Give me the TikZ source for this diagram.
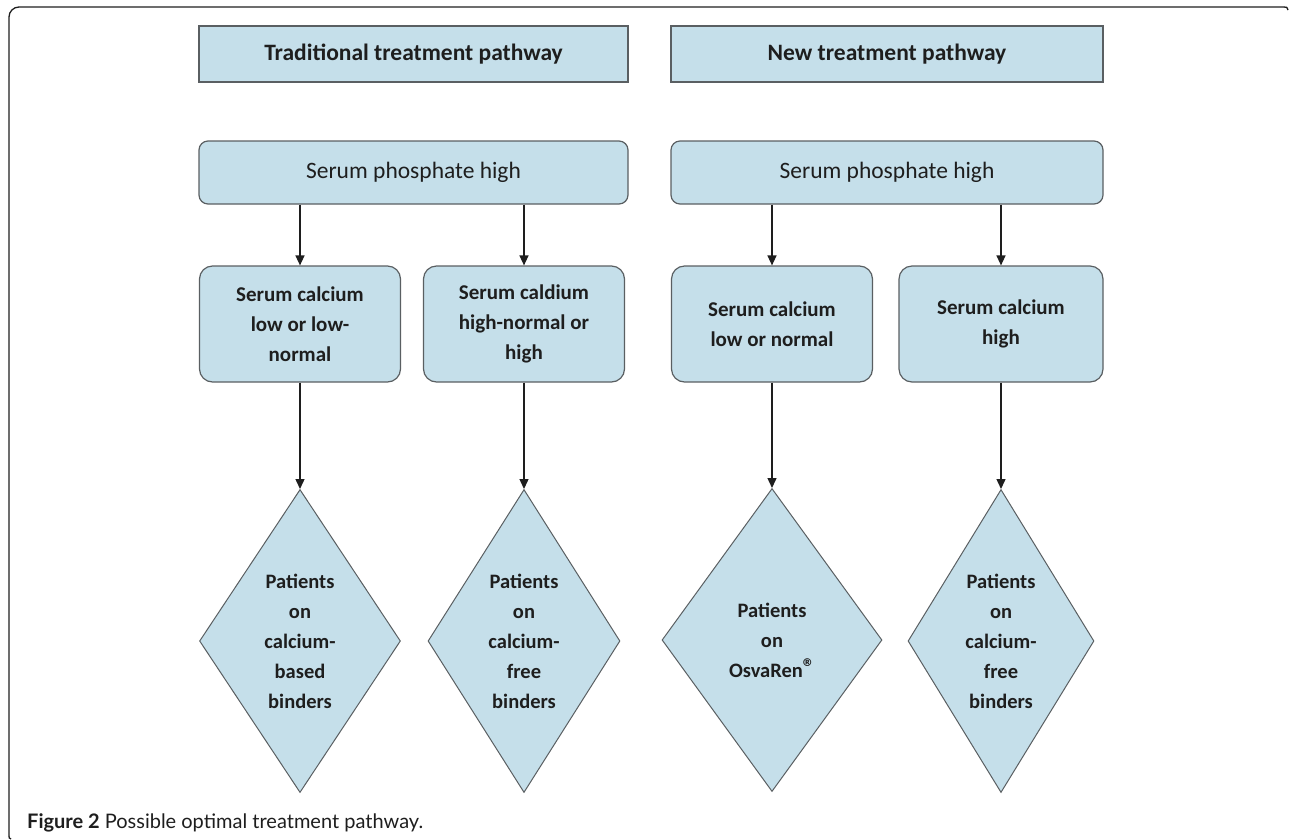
\documentclass[tikz,border=0pt]{standalone}
\usepackage{fontspec}
\setmainfont{Carlito}
\newfontfamily\capfont{Lato}
\usetikzlibrary{shapes.geometric,arrows.meta}
\definecolor{boxfill}{HTML}{C5DFEA}
\definecolor{boxline}{HTML}{5A5F62}
\definecolor{inkc}{HTML}{1E1E1E}
\begin{document}
\begin{tikzpicture}[x=1pt,y=-1pt,
 titlebox/.style={draw=boxline, fill=boxfill, line width=1.4pt, minimum height=56pt, inner sep=0pt, font=\fontsize{23.5}{28}\selectfont\bfseries, text=inkc},
 phosbox/.style={draw=boxline, fill=boxfill, line width=1.2pt, rounded corners=9pt, minimum height=63pt, inner sep=0pt, font=\fontsize{23.5}{28}\selectfont, text=inkc},
 calbox/.style={draw=boxline, fill=boxfill, line width=1.2pt, rounded corners=13pt, minimum height=116pt, inner sep=0pt, align=center, font=\fontsize{21}{30}\selectfont\bfseries, text=inkc},
 outbox/.style={diamond, draw=boxline, fill=boxfill, line width=1pt, minimum height=303pt, inner sep=0pt, shape aspect=0.66, align=center, font=\fontsize{20.5}{30}\selectfont\bfseries, text=inkc},
 arr/.style={draw=inkc, line width=1.4pt, -{Triangle[length=10pt,width=9pt]}},
 frame/.style={draw=inkc, line width=1.3pt}
]
\useasboundingbox (0,0) rectangle (1290,839);
% frame
\draw[frame, rounded corners=10pt] (9,836) -- (9,7) -- (1284,7);
\draw[frame] (1284,7) .. controls (1287,7) .. (1288,10);
\draw[frame] (9,836) .. controls (9,838) .. (11,839);
% titles
\node[titlebox, minimum width=429pt] (t1) at (413.5,54) {Traditional treatment pathway};
\node[titlebox, minimum width=432pt] (t2) at (887,54) {New treatment pathway};
% phosphate
\node[phosbox, minimum width=429pt] (p1) at (413.5,172.5) {Serum phosphate high};
\node[phosbox, minimum width=432pt] (p2) at (887,172.5) {Serum phosphate high};
% calcium
\node[calbox, minimum width=201pt] (a1) at (300,324) {Serum calcium\\low or low-\\normal};
\node[calbox, minimum width=201pt] (a2) at (524,324) {Serum caldium\\high-normal or\\high};
\node[calbox, minimum width=201pt] (b1) at (772,324) {Serum calcium\\low or normal};
\node[calbox, minimum width=204pt] (b2) at (1001,324) {Serum calcium\\high};
% outcomes
\node[outbox, minimum width=201pt] (d1) at (300,641) {Patients\\on\\calcium-\\based\\binders};
\node[outbox, minimum width=192pt] (d2) at (524,641) {Patients\\on\\calcium-\\free\\binders};
\node[outbox, minimum width=220pt] (d3) at (772,640) {Patients\\on\\OsvaRen\raisebox{0.1em}{\fontsize{24}{24}\selectfont ®}};
\node[outbox, minimum width=186pt] (d4) at (1001,641) {Patients\\on\\calcium-\\free\\binders};
% arrows
\draw[arr] (a1.north |- p1.south) -- (a1.north);
\draw[arr] (a2.north |- p1.south) -- (a2.north);
\draw[arr] (b1.north |- p2.south) -- (b1.north);
\draw[arr] (b2.north |- p2.south) -- (b2.north);
\draw[arr] (a1.south) -- (d1.north);
\draw[arr] (a2.south) -- (d2.north);
\draw[arr] (b1.south) -- (d3.north);
\draw[arr] (b2.south) -- (d4.north);
% caption
\node[anchor=base west, inner sep=0pt, text=inkc, font=\capfont\fontsize{20}{24}\selectfont] (cap) at (27,828) {\textbf{Figure 2} Possible optimal treatment pathway.};
\end{tikzpicture}
\end{document}
